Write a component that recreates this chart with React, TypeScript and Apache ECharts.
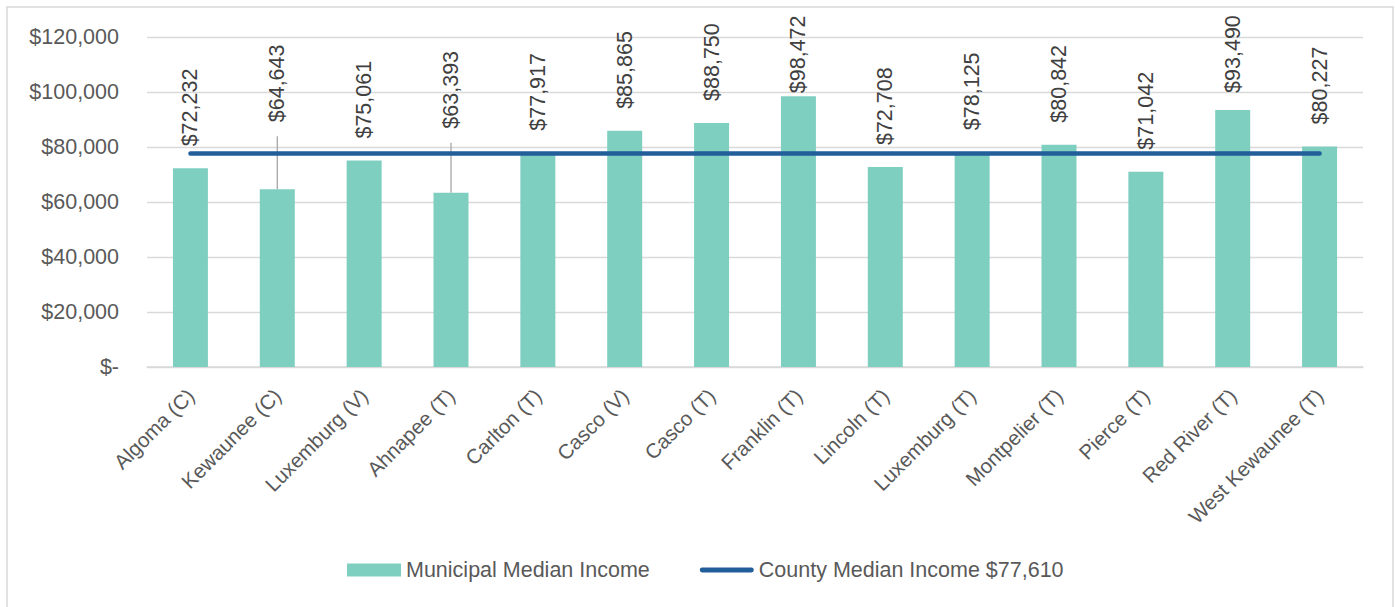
import React, { useEffect, useRef } from "react";
import * as echarts from "echarts";

const categories = [
  "Algoma (C)",
  "Kewaunee (C)",
  "Luxemburg (V)",
  "Ahnapee (T)",
  "Carlton (T)",
  "Casco (V)",
  "Casco (T)",
  "Franklin (T)",
  "Lincoln (T)",
  "Luxemburg (T)",
  "Montpelier (T)",
  "Pierce (T)",
  "Red River (T)",
  "West Kewaunee (T)",
];

const municipalMedianIncome = [
  72232, 64643, 75061, 63393, 77917, 85865, 88750, 98472, 72708, 78125, 80842,
  71042, 93490, 80227,
];

const countyMedianIncome = 77610;

const yTicks = { min: 0, max: 120000, interval: 20000 };

const seriesNames = {
  bars: "Municipal Median Income",
  line: "County Median Income $77,610",
};

// label placement tweaks (style only)
const defaultLabelGap = 22;
const labelGapOverrides: Record<string, number> = {
  "Kewaunee (C)": 67,
  "Ahnapee (T)": 64,
  "Franklin (T)": 3,
  "Red River (T)": 17,
};
const leaderLineLabels = ["Kewaunee (C)", "Ahnapee (T)"];
const leaderLineClearance = 14;

const FONT = "'Liberation Sans', Arial, sans-serif";
const money = (v: number) => "$" + v.toLocaleString("en-US");

export default function App() {
  const ref = useRef<HTMLDivElement>(null);

  useEffect(() => {
    if (!ref.current) return;
    const chart = echarts.init(ref.current, null, { renderer: "svg" });

    const barData = municipalMedianIncome.map((v, i) => {
      const cat = categories[i];
      const gap = labelGapOverrides[cat] ?? defaultLabelGap;
      return { value: v, label: { distance: gap } };
    });

    const leaderData = leaderLineLabels.map((cat) => {
      const idx = categories.indexOf(cat);
      return [idx, municipalMedianIncome[idx]];
    });

    chart.setOption({
      animation: false,
      backgroundColor: "#ffffff",
      textStyle: { fontFamily: FONT },
      graphic: [
        {
          type: "rect",
          shape: { x: 7, y: 7, width: 1386, height: 640 },
          style: { fill: "none", stroke: "#D9D9D9", lineWidth: 1.5 },
          silent: true,
          z: -10,
        },
      ],
      grid: { left: 147, right: 32, top: 37, bottom: 240 },
      legend: {
        left: 347,
        top: 559,
        padding: 0,
        itemGap: 50,
        itemWidth: 54,
        itemHeight: 13,
        textStyle: { fontSize: 21.5, color: "#595959", fontFamily: FONT },
        data: [
          { name: seriesNames.bars, icon: "rect" },
          {
            name: seriesNames.line,
            icon:
              "path://M2.5,0 L53.5,0 A2.5,2.5 0 0 1 53.5,5 L2.5,5 A2.5,2.5 0 0 1 2.5,0 Z",
          },
        ],
      },
      xAxis: {
        type: "category",
        data: categories,
        boundaryGap: true,
        axisLine: { lineStyle: { color: "#D9D9D9", width: 1.5 } },
        axisTick: { show: false },
        axisLabel: {
          rotate: 45,
          interval: 0,
          fontSize: 20.5,
          color: "#595959",
          fontFamily: FONT,
          margin: 25,
        },
      },
      yAxis: {
        type: "value",
        min: yTicks.min,
        max: yTicks.max,
        interval: yTicks.interval,
        axisLine: { show: false },
        axisTick: { show: false },
        splitLine: { lineStyle: { color: "#D9D9D9", width: 1.3 } },
        axisLabel: {
          fontSize: 21.5,
          color: "#595959",
          fontFamily: FONT,
          margin: 28,
          formatter: (v: number) => (v === 0 ? "$-" : money(v)),
        },
      },
      series: [
        {
          name: seriesNames.bars,
          type: "bar",
          data: barData,
          barWidth: 35,
          itemStyle: { color: "#7ECFC0" },
          label: {
            show: true,
            position: "top",
            rotate: 90,
            align: "left",
            verticalAlign: "middle",
            fontSize: 21.5,
            color: "#404040",
            fontFamily: FONT,
            formatter: (p: any) => money(p.value),
          },
          z: 2,
        },
        {
          name: "leader lines",
          type: "custom",
          data: leaderData,
          encode: { x: 0, y: 1 },
          silent: true,
          z: 1,
          renderItem: (params: any, api: any) => {
            const p = api.coord([api.value(0), api.value(1)]);
            const cat = categories[api.value(0)];
            const gap = labelGapOverrides[cat] ?? defaultLabelGap;
            return {
              type: "line",
              shape: {
                x1: p[0],
                y1: p[1],
                x2: p[0],
                y2: p[1] - (gap - leaderLineClearance),
              },
              style: { stroke: "#A6A6A6", lineWidth: 1.3 },
            };
          },
        },
        {
          name: seriesNames.line,
          type: "line",
          data: categories.map(() => countyMedianIncome),
          symbol: "none",
          showSymbol: false,
          lineStyle: { color: "#225E99", width: 4.5, cap: "round" },
          itemStyle: { color: "#225E99" },
          z: 3,
        },
      ],
    });

    return () => chart.dispose();
  }, []);

  return (
    <div
      ref={ref}
      style={{
        position: "absolute",
        left: 0,
        top: 0,
        width: 1395,
        height: 607,
      }}
    />
  );
}
